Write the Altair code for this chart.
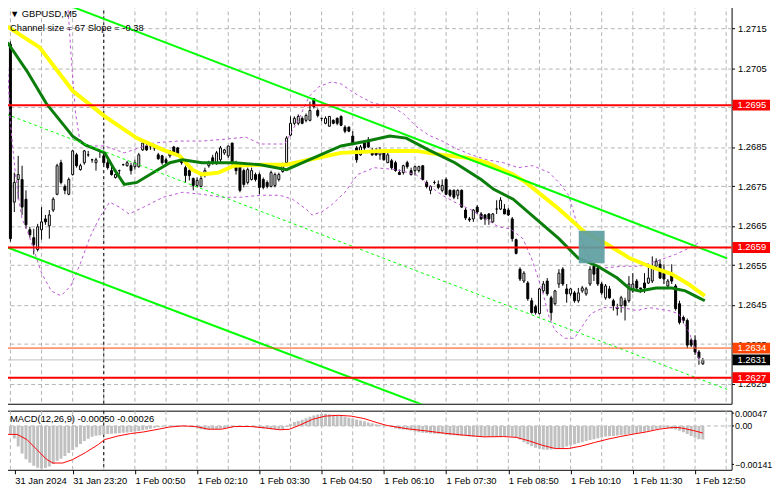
import json
import altair as alt
import pandas as pd

# ---------------- text ----------------
symbol_title = "GBPUSD,M5"
channel_text = "Channel size = 67 Slope = -0.38"
macd_text = "MACD(12,26,9) -0.00050 -0.00026"

# ---------------- candles (M5 bars) ----------------
bar_open = [
    1.2711, 1.2671, 1.267675, 1.267675, 1.267175, 1.2664, 1.2662, 1.2659, 1.2664, 1.266675,
    1.2665, 1.2669, 1.2673, 1.2681, 1.2675, 1.2673, 1.2678, 1.2683, 1.267925, 1.2681,
    1.2683, 1.268175, 1.2681, 1.2684, 1.268275, 1.2681, 1.2679, 1.267725, 1.2679, 1.26805,
    1.268025, 1.268025, 1.268, 1.268, 1.268425, 1.268525, 1.268525, 1.268475, 1.2683, 1.268275,
    1.268175, 1.268275, 1.2685, 1.268475, 1.268225, 1.267975, 1.2679, 1.2677, 1.267525, 1.2675,
    1.267775, 1.268025, 1.268225, 1.268075, 1.268175, 1.26835, 1.268275, 1.2686, 1.2681, 1.26805,
    1.2679, 1.2676, 1.267675, 1.2678, 1.2678, 1.267675, 1.2676, 1.2675, 1.267525, 1.267675,
    1.267875, 1.2681, 1.2688, 1.2691, 1.2691, 1.269225, 1.269175, 1.269175, 1.269725, 1.269425,
    1.269225, 1.2691, 1.269025, 1.269175, 1.269225, 1.269275, 1.269, 1.269, 1.268775, 1.268475,
    1.2683, 1.2686, 1.268675, 1.2684, 1.2684, 1.2683, 1.2684, 1.2681, 1.26815, 1.2681,
    1.26785, 1.26785, 1.2681, 1.2679, 1.2679, 1.2679, 1.268025, 1.2676, 1.2674, 1.2676,
    1.26755, 1.2674, 1.267675, 1.2674, 1.2674, 1.267275, 1.2674, 1.2669, 1.266675, 1.266675,
    1.266975, 1.2668, 1.266775, 1.2668, 1.2666, 1.266925, 1.266925, 1.266925, 1.2669, 1.266675,
    1.26615, 1.2654, 1.2651, 1.26505, 1.2646, 1.26445, 1.264275, 1.26485, 1.2651, 1.264675,
    1.264525, 1.265025, 1.2654, 1.2649, 1.264775, 1.2648, 1.2646, 1.26485, 1.264775, 1.265025,
    1.265475, 1.265425, 1.265025, 1.264675, 1.2649, 1.2646, 1.264425, 1.264475, 1.2646, 1.2646,
    1.26485, 1.2651, 1.264925, 1.26505, 1.26505, 1.2651, 1.265475, 1.265525, 1.2653, 1.264975,
    1.2653, 1.264975, 1.264525, 1.264175, 1.2641, 1.2636, 1.2636, 1.2633, 1.263,
]
bar_high = [
    1.271175, 1.26785, 1.268275, 1.268025, 1.2674, 1.266475, 1.266425, 1.26655, 1.266975, 1.266775,
    1.2669, 1.267225, 1.268075, 1.268175, 1.26755, 1.267725, 1.268425, 1.26835, 1.268075, 1.268425,
    1.2684, 1.2682, 1.268225, 1.268425, 1.26835, 1.268225, 1.268025, 1.267825, 1.267925, 1.268075,
    1.26815, 1.2681, 1.268175, 1.26835, 1.2686, 1.268575, 1.26855, 1.2685, 1.26835, 1.2683,
    1.268225, 1.268425, 1.268525, 1.2685, 1.268275, 1.268025, 1.26795, 1.267725, 1.267725, 1.2678,
    1.267975, 1.26815, 1.2683, 1.2684, 1.268525, 1.26845, 1.268525, 1.2686, 1.26815, 1.2681,
    1.26795, 1.267975, 1.267975, 1.26785, 1.26785, 1.267725, 1.26765, 1.2679, 1.26785, 1.26785,
    1.2681, 1.268775, 1.269275, 1.269275, 1.269325, 1.269275, 1.26935, 1.26965, 1.269725, 1.269475,
    1.269225, 1.269275, 1.269275, 1.2692, 1.26925, 1.2693, 1.26905, 1.269025, 1.2689, 1.268525,
    1.26855, 1.26865, 1.26875, 1.268475, 1.268475, 1.2685, 1.26845, 1.2684, 1.2682, 1.26815,
    1.267925, 1.26805, 1.26815, 1.267975, 1.268025, 1.268025, 1.268025, 1.26765, 1.267525, 1.26765,
    1.26765, 1.267675, 1.267725, 1.267425, 1.267425, 1.267425, 1.267425, 1.26695, 1.266725, 1.266925,
    1.267025, 1.26685, 1.2668, 1.266825, 1.266825, 1.26715, 1.267225, 1.26705, 1.26695, 1.266725,
    1.266175, 1.26545, 1.26535, 1.2651, 1.264675, 1.2645, 1.264925, 1.2651, 1.265175, 1.264725,
    1.264875, 1.2654, 1.26545, 1.265025, 1.264925, 1.26485, 1.264925, 1.264975, 1.26495, 1.265475,
    1.26555, 1.265475, 1.265075, 1.265025, 1.264975, 1.26465, 1.264525, 1.264725, 1.264675, 1.265225,
    1.2653, 1.26515, 1.264925, 1.2653, 1.265525, 1.265725, 1.265675, 1.26565, 1.265525, 1.26515,
    1.265525, 1.265025, 1.2646, 1.264225, 1.26415, 1.26365, 1.263725, 1.26335, 1.26315,
]
bar_low = [
    1.2661, 1.26685, 1.267175, 1.266775, 1.266425, 1.2662, 1.265775, 1.26585, 1.26615, 1.266525,
    1.266175, 1.26685, 1.267275, 1.26755, 1.2673, 1.267275, 1.267775, 1.267975, 1.2679, 1.26805,
    1.26825, 1.2681, 1.2679, 1.268225, 1.26805, 1.267925, 1.267775, 1.2677, 1.2678, 1.268025,
    1.268, 1.2678, 1.267925, 1.267975, 1.2684, 1.2684, 1.268425, 1.2684, 1.268175, 1.26805,
    1.26805, 1.268225, 1.2683, 1.2683, 1.26805, 1.2676, 1.26765, 1.2674, 1.267475, 1.267475,
    1.267725, 1.267975, 1.26805, 1.26805, 1.2681, 1.2683, 1.268225, 1.26805, 1.2678, 1.26735,
    1.267475, 1.26755, 1.26765, 1.267625, 1.2673, 1.267425, 1.26745, 1.267475, 1.267475, 1.267625,
    1.26785, 1.268075, 1.268775, 1.26905, 1.26905, 1.269075, 1.269125, 1.26915, 1.269475, 1.26925,
    1.26915, 1.269075, 1.269025, 1.269075, 1.26905, 1.269025, 1.26885, 1.268875, 1.26855, 1.2681,
    1.268275, 1.268425, 1.268475, 1.268275, 1.268275, 1.268175, 1.26815, 1.2681, 1.267925, 1.267875,
    1.2678, 1.2678, 1.26795, 1.267775, 1.267775, 1.26785, 1.26765, 1.26745, 1.2673, 1.26755,
    1.267425, 1.26735, 1.267275, 1.267225, 1.267175, 1.267175, 1.26695, 1.26665, 1.2666, 1.2666,
    1.2668, 1.26665, 1.266525, 1.266525, 1.266575, 1.2668, 1.2669, 1.2668, 1.26675, 1.2661,
    1.265775, 1.2651, 1.26505, 1.2646, 1.264275, 1.26425, 1.26425, 1.2648, 1.264725, 1.2641,
    1.264475, 1.264925, 1.264975, 1.26455, 1.264725, 1.26455, 1.26455, 1.2648, 1.264725, 1.264975,
    1.2651, 1.264975, 1.26475, 1.264625, 1.26465, 1.26435, 1.264225, 1.2643, 1.2641, 1.26455,
    1.2648, 1.26485, 1.2648, 1.2648, 1.265025, 1.26505, 1.265425, 1.26515, 1.265025, 1.264925,
    1.265025, 1.26435, 1.264, 1.264025, 1.2634, 1.263425, 1.263225, 1.262975, 1.262975,
]
bar_close = [
    1.266175, 1.2676, 1.2678, 1.266975, 1.266525, 1.266275, 1.266025, 1.266475, 1.2666, 1.2666,
    1.266775, 1.267175, 1.268025, 1.2676, 1.2674, 1.267675, 1.2684, 1.268025, 1.268025, 1.2684,
    1.2683, 1.268175, 1.268175, 1.2684, 1.2681, 1.267975, 1.2678, 1.2678, 1.2679, 1.26805,
    1.2681, 1.2679, 1.2681, 1.2683, 1.2686, 1.268425, 1.268525, 1.268475, 1.2682, 1.2681,
    1.2681, 1.2684, 1.26835, 1.268325, 1.2681, 1.267775, 1.267775, 1.267525, 1.26765, 1.2677,
    1.2679, 1.2681, 1.2681, 1.26835, 1.268475, 1.268425, 1.268525, 1.2681, 1.2679, 1.2674,
    1.26755, 1.267925, 1.2679, 1.267675, 1.267475, 1.267475, 1.2675, 1.26785, 1.2678, 1.2678,
    1.268025, 1.268725, 1.2691, 1.269225, 1.269275, 1.2691, 1.2693, 1.269425, 1.269525, 1.2693,
    1.269225, 1.269225, 1.269275, 1.2691, 1.2691, 1.26905, 1.2689, 1.2689, 1.2686, 1.268175,
    1.2685, 1.268475, 1.2685, 1.2683, 1.2683, 1.2684, 1.268175, 1.2683, 1.267975, 1.2679,
    1.2678, 1.268025, 1.268, 1.2678, 1.268, 1.268, 1.267675, 1.2675, 1.2675, 1.2676,
    1.267475, 1.267525, 1.2673, 1.267275, 1.267225, 1.2674, 1.266975, 1.2667, 1.26665, 1.2669,
    1.26685, 1.266675, 1.266675, 1.266675, 1.2668, 1.266925, 1.26715, 1.2668, 1.266775, 1.266175,
    1.2658, 1.26515, 1.2653, 1.26465, 1.2643, 1.2643, 1.2649, 1.265025, 1.264775, 1.2643,
    1.26485, 1.2653, 1.265025, 1.264775, 1.2649, 1.2646, 1.2648, 1.264925, 1.2649, 1.2654,
    1.265275, 1.265025, 1.2648, 1.264975, 1.264675, 1.264475, 1.2644, 1.264675, 1.264475, 1.265025,
    1.265025, 1.264925, 1.2649, 1.264925, 1.265175, 1.265425, 1.2656, 1.265175, 1.26515, 1.2651,
    1.2651, 1.2644, 1.26405, 1.2641, 1.263475, 1.263475, 1.2633, 1.26315, 1.2631,
]

# ---------------- moving averages (read at sample bars) ----------------
ma_yellow_bar = [-0.75, 7.5, 16, 24.25, 32.5, 39.25, 43.5, 46.75, 49.25, 53.5, 57.5, 64.25, 71, 76.75, 85,
                 96, 104.25, 111, 117.5, 122.5, 129.25, 132.5, 141, 147.5, 153.5, 159.25, 164.25, 170,
                 174.25, 178.5]
ma_yellow_val = [1.27155, 1.271025, 1.269925, 1.269275, 1.268725, 1.268425, 1.268275, 1.267925, 1.2678,
                 1.26785, 1.268025, 1.26805, 1.26805, 1.268175, 1.26835, 1.2684, 1.2684, 1.2683, 1.268225,
                 1.2681, 1.2678, 1.2676, 1.266925, 1.26635, 1.266025, 1.265675, 1.265475, 1.265275,
                 1.265025, 1.264725]
ma_green_bar = [-0.75, 4.25, 9.25, 16, 19.25, 24.25, 26.75, 29.25, 32.5, 36.75, 41, 44.25, 49.25, 57.5,
                64.25, 71, 76.75, 85, 91.75, 97.5, 101.75, 107.5, 114.25, 121, 124.25, 129.25, 136, 141,
                146, 151, 156, 159.25, 161.75, 166, 170, 173.5, 176, 178.5]
ma_green_val = [1.27115, 1.270425, 1.2696, 1.268775, 1.26855, 1.26835, 1.267925, 1.26755, 1.2676, 1.26785,
                1.2681, 1.268175, 1.2681, 1.2681, 1.26805, 1.267925, 1.268175, 1.268525, 1.26865, 1.268775,
                1.268725, 1.268425, 1.2681, 1.267675, 1.267425, 1.267175, 1.2666, 1.266175, 1.265675,
                1.265475, 1.265175, 1.2649, 1.26485, 1.264925, 1.264925, 1.26485, 1.264725, 1.2646]

# ---------------- bands (purple dashed) ----------------
band_up_bar = [13, 14.75, 15.75, 16.75, 17.75, 19.25, 24.25, 29.25, 33, 36.75, 43, 49.25, 55.5, 60.5, 64.25,
               70.5, 74.25, 76.75, 79.25, 82.5, 85, 87.5, 90, 93.5, 97.5, 101, 104.25, 107.5, 111, 114.25,
               118.5, 122.5, 126.75, 130.5, 134.25, 138.5, 141, 143.5, 144.25, 146, 147.5, 149.25, 151.75,
               157.5, 161.75, 166, 171, 174.25, 177.5]
band_up_val = [1.27285, 1.2721, 1.2706, 1.26935, 1.268725, 1.268525, 1.268525, 1.26835, 1.268475, 1.2686,
               1.26865, 1.26865, 1.2687, 1.26875, 1.268575, 1.268575, 1.269225, 1.269775, 1.270025, 1.27015,
               1.2701, 1.269925, 1.269775, 1.2696, 1.26955, 1.26935, 1.269025, 1.2688, 1.26865, 1.268475,
               1.2683, 1.268175, 1.2681, 1.267975, 1.268025, 1.26785, 1.2676, 1.267275, 1.267025, 1.266425,
               1.265925, 1.2656, 1.265425, 1.265475, 1.265475, 1.2656, 1.265775, 1.265925, 1.2661]
band_lo_bar = [-1, 0, 1.25, 2.25, 3, 4.25, 6, 8, 10.5, 13, 15.5, 18, 20.5, 23, 25.5, 28, 30.5, 34.25, 39.25,
               44.25, 49.25, 54.25, 59.25, 64.25, 69.25, 72.5, 76, 77.5, 80, 82.5, 86, 89.25, 93.5, 99.25,
               104.25, 107.5, 111, 114.25, 118.5, 122.5, 125.5, 128.5, 131.75, 134.25, 136.75, 138.5, 140,
               142.5, 145, 147.5, 149.25, 152.5, 157.5, 161, 164.25, 169.25, 171.75, 174.25, 177.5]
band_lo_val = [1.2711, 1.2691, 1.26785, 1.2671, 1.266675, 1.2664, 1.2659, 1.2653, 1.26485, 1.264725,
               1.264975, 1.26555, 1.266225, 1.266725, 1.2671, 1.266975, 1.2668, 1.266975, 1.267225, 1.26735,
               1.2673, 1.267225, 1.267225, 1.267275, 1.267275, 1.267175, 1.266925, 1.266775, 1.26685,
               1.267025, 1.26735, 1.2678, 1.267975, 1.267925, 1.2678, 1.267525, 1.267275, 1.2671, 1.2669,
               1.26665, 1.266475, 1.266425, 1.266175, 1.2656, 1.26485, 1.264175, 1.26385, 1.26365, 1.26365,
               1.264025, 1.264275, 1.264425, 1.264425, 1.26435, 1.264425, 1.26435, 1.264275, 1.26385,
               1.263025]

# ---------------- regression channel (end points) ----------------
channel_bar = [-1, 184.25]
channel_upper = [1.272697, 1.265675]
channel_mid = [1.26933, 1.26235]
channel_lower = [1.26596, 1.259035]

# ---------------- horizontal levels ----------------
level_prices = [1.26956, 1.26595, 1.26265]
level_labels = ["1.2695", "1.2659", "1.2627"]
target_price = 1.2634
bid_price = 1.2631

# rectangle object
rect_bar_start = [146.1]
rect_bar_end = [152.75]
rect_top = [1.266375]
rect_bottom = [1.26555]

# ---------------- MACD ----------------
macd_hist = [
    -0.00031, -0.00046, -0.00075, -0.00101, -0.00122, -0.00135, -0.00146, -0.00153, -0.00156, -0.00154,
    -0.00149, -0.0014, -0.00128, -0.0012, -0.0011, -0.00099, -0.00088, -0.00078, -0.00066, -0.00055,
    -0.00047, -0.0004, -0.00036, -0.00034, -0.00031, -0.0003, -0.00029, -0.00028, -0.00027, -0.00025,
    -0.00024, -0.00022, -0.0002, -0.00019, -0.00016, -0.00013, -0.0001, -0.00007, -0.00005, -0.00002,
    -0.00001, 0.00001, 0.00002, 0.00002, 0.00002, 0.00001, -0.00001, -0.00005, -0.00009, -0.00012,
    -0.00014, -0.00014, -0.00012, -0.00011, -0.0001, -0.00008, -0.00007, -0.00006, -0.00005, -0.00004,
    -0.00002, -0.00002, -0.00004, -0.00005, -0.00006, -0.00009, -0.0001, -0.00012, -0.00013, -0.00014,
    -0.00012, -0.00004, 0.00008, 0.00014, 0.00018, 0.00023, 0.00028, 0.00034, 0.00038, 0.00042,
    0.00044, 0.00045, 0.00043, 0.00041, 0.00039, 0.00037, 0.00034, 0.0003, 0.00027, 0.00024,
    0.0002, 0.00017, 0.00013, 0.0001, 0.00006, 0.00004, 0.00002, 0.0, -0.00005, -0.00009,
    -0.00012, -0.00013, -0.00014, -0.00017, -0.0002, -0.00023, -0.00025, -0.00026, -0.00028, -0.00029,
    -0.00029, -0.0003, -0.00032, -0.00034, -0.00034, -0.00035, -0.00036, -0.00037, -0.00039, -0.0004,
    -0.0004, -0.0004, -0.0004, -0.0004, -0.0004, -0.00039, -0.00039, -0.00039, -0.00039, -0.0004,
    -0.00042, -0.0005, -0.0006, -0.00067, -0.00074, -0.0008, -0.00084, -0.00086, -0.00087, -0.00086,
    -0.00084, -0.00082, -0.0008, -0.00075, -0.00071, -0.00067, -0.00063, -0.0006, -0.00055, -0.00052,
    -0.00049, -0.00045, -0.00042, -0.00039, -0.00038, -0.00037, -0.00035, -0.00034, -0.00032, -0.0003,
    -0.00029, -0.00026, -0.00024, -0.00021, -0.00018, -0.00015, -0.00011, -0.00009, -0.00007, -0.00008,
    -0.0001, -0.00013, -0.00018, -0.00023, -0.0003, -0.00037, -0.00043, -0.00049, -0.0005,
]
signal_bar = [-0.75, 1.75, 4.25, 6.75, 9.25, 10.9, 13.4, 15.9, 19.25, 22.6, 24.25, 27.6, 30.9, 34.25, 38.4,
              40.9, 44.25, 47.6, 50.9, 54.25, 57.6, 61.75, 65.9, 69.25, 71.75, 74.25, 77.6, 80.9, 84.25,
              87.6, 90.9, 94.25, 96.75, 101.75, 106.75, 111.75, 116.75, 121.75, 126.75, 130.1, 133.4,
              136.75, 140.1, 143.4, 146.75, 150.1, 153.4, 156.75, 160.1, 163.4, 166.75, 170.1, 171.75,
              173.4, 175.9, 178]
signal_val = [-0.00031, -0.00031, -0.0005, -0.00086, -0.00122, -0.00136, -0.00136, -0.00124, -0.00098,
              -0.00068, -0.0005, -0.00037, -0.00028, -0.00022, -0.00011, -0.00004, 0.0, -0.00002, -0.00012,
              -0.00012, -0.00002, -0.00002, -0.00008, -0.00014, -0.00012, 0.00002, 0.00024, 0.00036,
              0.00039, 0.00036, 0.00027, 0.00012, 0.00002, -0.0001, -0.00018, -0.00027, -0.00034, -0.0004,
              -0.00039, -0.00042, -0.00055, -0.00071, -0.00083, -0.00083, -0.00074, -0.00061, -0.00049,
              -0.00039, -0.0003, -0.00022, -0.00012, -0.00006, -0.00006, -0.0001, -0.00018, -0.00026]
macd_ticks = [0.00047, 0.0, -0.00141]

# ---------------- axes ----------------
price_ticks = [1.2625, 1.2635, 1.2645, 1.2655, 1.2665, 1.2675, 1.2685, 1.2695, 1.2705, 1.2715]
time_labels = ["31 Jan 2024", "31 Jan 23:20", "1 Feb 00:50", "1 Feb 02:10", "1 Feb 03:30", "1 Feb 04:50",
               "1 Feb 06:10", "1 Feb 07:30", "1 Feb 08:50", "1 Feb 10:10", "1 Feb 11:30", "1 Feb 12:50"]
label_bars = [0, 16, 32, 48, 64, 80, 96, 112, 128, 144, 160, 176]
grid_bars = [0, 8, 16, 24, 32, 40, 48, 56, 64, 72, 80, 88, 96, 104, 112, 120, 128, 136, 144, 152, 160,
             168, 176, 184]
day_start_bar = [24]

# =====================================================================
FONT = "Liberation Sans"
FS = 9.5
GRID_COLOR = "#B4B4B4"
GRID_DASH = [4, 3]
W, H_MAIN, H_MACD = 740, 405, 60
X0 = -0.875
X1 = X0 + W / 4.0
FIRST_VISIBLE_BAR = 1.125
x_scale = alt.Scale(domain=[X0, X1], nice=False, zero=False)
Y_TOP = 1.2721125
y_scale = alt.Scale(domain=[Y_TOP - H_MAIN / 40000.0, Y_TOP], nice=False, zero=False)
m_scale = alt.Scale(domain=[-0.001609, 0.000560], nice=False, zero=False)

price_axis = alt.Axis(orient="right", values=price_ticks,
                      labelExpr="datum.value == 1.2695 ? '' : format(datum.value, '.4f')",
                      grid=True, gridColor=GRID_COLOR,
                      gridDash=GRID_DASH, gridWidth=1, tickColor="black", tickSize=3, labelPadding=3,
                      labelFontSize=FS, labelFont=FONT, labelColor="black", domain=False, title=None)

label_expr = json.dumps(time_labels) + "[round(datum.value / 16)]"
time_axis = alt.Axis(values=[max(b, FIRST_VISIBLE_BAR) for b in label_bars], labelExpr=label_expr,
                     labelAlign="left", labelPadding=2, tickSize=4, tickColor="black", labelFontSize=FS,
                     labelFont=FONT, labelColor="black", grid=False, domain=False, title=None,
                     labelOverlap=False, labelFlush=False, labelBound=False)
macd_axis = alt.Axis(orient="right", values=macd_ticks,
                     labelExpr="datum.value == 0 ? '0.00' : format(datum.value, '.5f')",
                     grid=False, tickColor="black", tickSize=2, labelPadding=1, labelFontSize=9,
                     labelFont=FONT, labelColor="black", domain=False, title=None)


def X(field="bar"):
    return alt.X(f"{field}:Q", scale=x_scale, axis=None)


def Y(field):
    return alt.Y(f"{field}:Q", scale=y_scale, axis=price_axis)


def MX(field="bar"):
    return alt.X(f"{field}:Q", scale=x_scale, axis=time_axis)


def MY(field="value"):
    return alt.Y(f"{field}:Q", scale=m_scale, axis=macd_axis)


candles = pd.DataFrame({"bar": list(range(len(bar_open))), "open": bar_open, "high": bar_high,
                        "low": bar_low, "close": bar_close})
candles["dir"] = ["up" if c >= o else "down" for o, c in zip(bar_open, bar_close)]

vgrid_df = pd.DataFrame({"bar": [b for b in grid_bars if X0 <= b <= X1]})
sep_df = pd.DataFrame({"bar": day_start_bar})

vgrid = alt.Chart(vgrid_df).mark_rule(color=GRID_COLOR, strokeDash=GRID_DASH, strokeWidth=1).encode(x=X())
daysep = alt.Chart(sep_df).mark_rule(color="black", strokeDash=[3, 3], strokeWidth=1).encode(x=X())

wicks = alt.Chart(candles).mark_rule(color="black", strokeWidth=1, clip=True).encode(
    x=X(), y=Y("low"), y2="high:Q")
bodies = alt.Chart(candles).mark_bar(size=2, stroke="black", strokeWidth=1, clip=True).encode(
    x=X(), y=Y("open"), y2="close:Q",
    fill=alt.Fill("dir:N", scale=alt.Scale(domain=["up", "down"], range=["white", "black"]), legend=None))


def line_layer(bars, vals, **mark):
    df = pd.DataFrame({"bar": bars, "price": vals})
    return alt.Chart(df).mark_line(clip=True, **mark).encode(x=X(), y=Y("price"))


bb_up = line_layer(band_up_bar, band_up_val, color="#BA55D3", strokeWidth=1, strokeDash=[3, 3])
bb_lo = line_layer(band_lo_bar, band_lo_val, color="#BA55D3", strokeWidth=1, strokeDash=[3, 3])
ma_y = line_layer(ma_yellow_bar, ma_yellow_val, color="#FFFF00", strokeWidth=4)
ma_g = line_layer(ma_green_bar, ma_green_val, color="#0A7D0A", strokeWidth=3)
ch_mid = line_layer(channel_bar, channel_mid, color="#00FF00", strokeWidth=1, strokeDash=[3, 3])
ch_up = line_layer(channel_bar, channel_upper, color="#00FF00", strokeWidth=2)
ch_lo = line_layer(channel_bar, channel_lower, color="#00FF00", strokeWidth=2)

lv_df = pd.DataFrame({"price": level_prices})
levels = alt.Chart(lv_df).mark_rule(color="#FF0000", strokeWidth=2).encode(y=Y("price"))
tg_df = pd.DataFrame({"price": [target_price]})
target = alt.Chart(tg_df).mark_rule(color="#FF4500", strokeWidth=1).encode(y=Y("price"))
bid_df = pd.DataFrame({"price": [bid_price]})
bid = alt.Chart(bid_df).mark_rule(color="#C0C0C0", strokeWidth=1).encode(y=Y("price"))

rect_df = pd.DataFrame({"b0": rect_bar_start, "b1": rect_bar_end, "top": rect_top, "bottom": rect_bottom})
rect = alt.Chart(rect_df).mark_rect(color="#5F9EA0", opacity=0.93).encode(
    x=X("b0"), x2="b1:Q", y=Y("top"), y2="bottom:Q")

box_df = pd.DataFrame({
    "price": level_prices + [target_price, bid_price],
    "label": level_labels + [f"{target_price:.4f}", f"{bid_price:.4f}"],
    "fill": ["#FF0000"] * len(level_prices) + ["#FF4500", "#000000"],
})
BOX_PATH = "M-1,-0.29L1,-0.29L1,0.29L-1,0.29Z"
boxes = alt.Chart(box_df).mark_point(shape=BOX_PATH, size=1444, filled=True, opacity=1, strokeWidth=0).encode(
    x=alt.value(W + 20), y=Y("price"), color=alt.Color("fill:N", scale=None))
box_text = alt.Chart(box_df).mark_text(align="left", baseline="middle", font=FONT, fontSize=FS,
                                       color="white").encode(x=alt.value(W + 6), y=Y("price"), text="label:N")

main = alt.layer(vgrid, daysep, wicks, bodies, bb_up, bb_lo, ma_y, ma_g, ch_mid, ch_up, ch_lo,
                 levels, target, bid, rect, boxes, box_text).properties(
    width=W, height=H_MAIN,
    title=alt.TitleParams(text=["\u25BC " + symbol_title, channel_text], anchor="start", frame="group",
                          offset=-29, dx=8, fontSize=FS, fontWeight="normal", font=FONT, color="black",
                          lineHeight=14))

# ---------------- MACD panel ----------------
hist_df = pd.DataFrame({"bar": list(range(len(macd_hist))), "value": macd_hist, "base": 0.0})
sig_df = pd.DataFrame({"bar": signal_bar, "value": signal_val})
zero_df = pd.DataFrame({"value": [0.0]})

m_vgrid = alt.Chart(vgrid_df).mark_rule(color=GRID_COLOR, strokeDash=GRID_DASH, strokeWidth=1).encode(x=MX())
m_zero = alt.Chart(zero_df).mark_rule(color=GRID_COLOR, strokeDash=GRID_DASH, strokeWidth=1).encode(y=MY())
m_sep = alt.Chart(sep_df).mark_rule(color="black", strokeDash=[3, 3], strokeWidth=1).encode(x=MX())
m_hist = alt.Chart(hist_df).mark_bar(size=3, color="#C0C0C0", clip=True).encode(
    x=MX(), y=MY(), y2="base:Q")
m_sig = alt.Chart(sig_df).mark_line(color="#FF0000", strokeWidth=1, clip=True).encode(x=MX(), y=MY())

macd = alt.layer(m_vgrid, m_zero, m_sep, m_hist, m_sig).properties(
    width=W, height=H_MACD,
    title=alt.TitleParams(text=macd_text, anchor="start", frame="group", offset=-14, dx=8, fontSize=FS,
                          fontWeight="normal", font=FONT, color="black"))

chart = alt.vconcat(main, macd, spacing=3).properties(
    padding={"left": -8, "top": -8, "right": 0, "bottom": 0},
    background="white",
).configure_view(stroke="black", strokeWidth=1)

chart.save("out.html", embed_options={"renderer": "svg", "actions": False})
